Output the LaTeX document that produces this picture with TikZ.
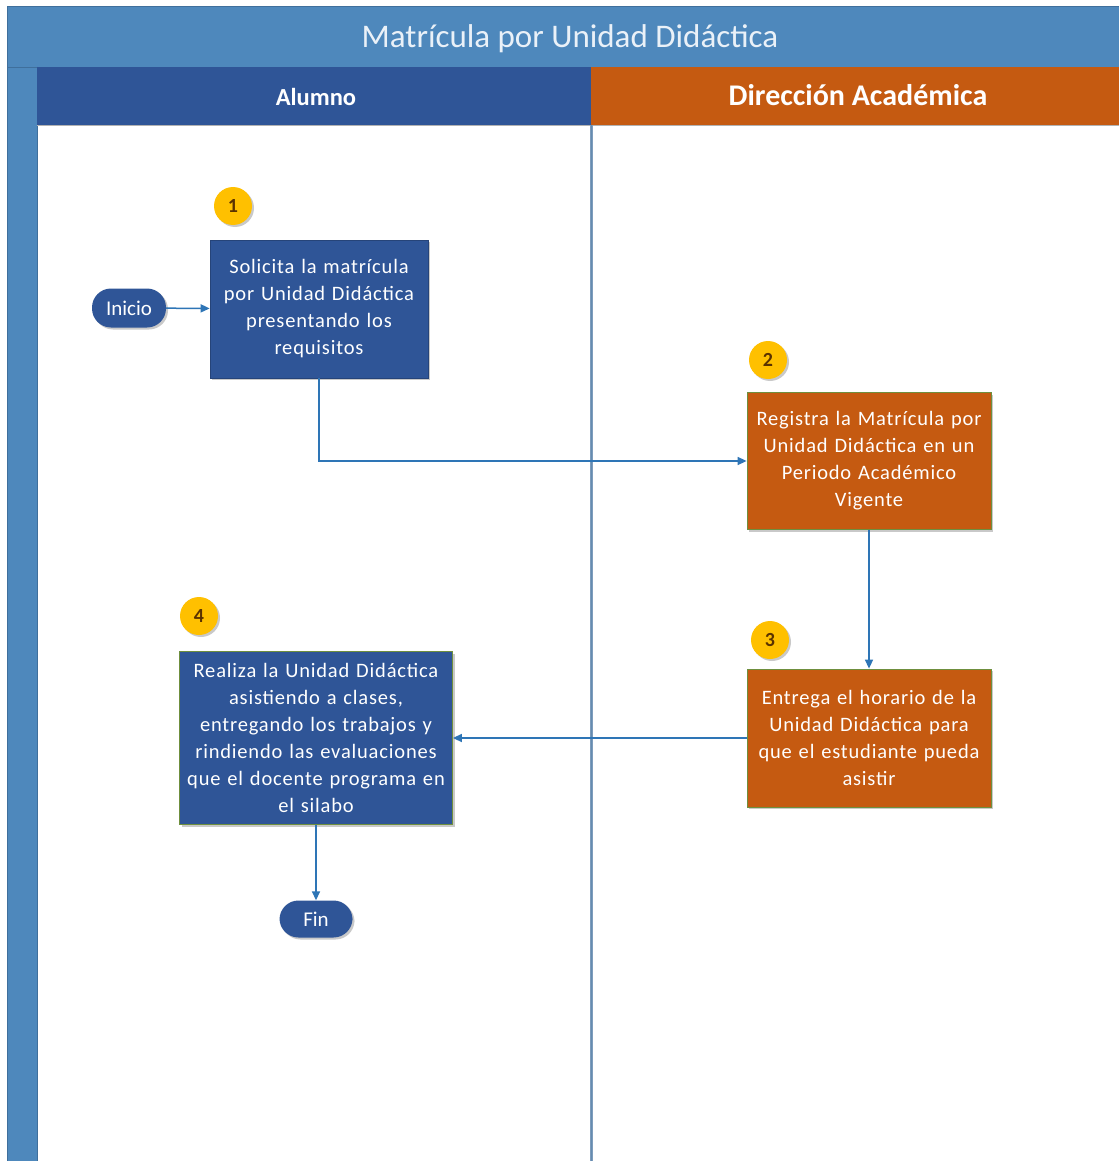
\documentclass[tikz,border=0pt]{standalone}
\usepackage{fontspec}
\setmainfont{Carlito}
\newfontfamily\boxfont[LetterSpace=4]{Carlito}
\usetikzlibrary{shadows,arrows.meta}
\definecolor{frameblue}{HTML}{4E88BC}
\definecolor{frameedge}{HTML}{3F6F9C}
\definecolor{lanedark}{HTML}{2F5597}
\definecolor{laneorange}{HTML}{C55A11}
\definecolor{badgefill}{HTML}{FFC000}
\definecolor{badgetext}{HTML}{5A3200}
\definecolor{flow}{HTML}{2E75B6}
\definecolor{edgegreen}{HTML}{6F8F3E}
\definecolor{divider}{HTML}{7E9CBC}
\definecolor{titletext}{HTML}{EAF1F8}

\begin{document}
\begin{tikzpicture}[x=1pt,y=-1pt,
  shade/.style={drop shadow={shadow xshift=2pt,shadow yshift=-2pt,opacity=0.35,fill=black!60}},
  procblue/.style={rectangle,fill=lanedark,draw=lanedark!80!black,line width=0.6pt,shade,
    text=white,align=center,inner sep=0pt,font=\boxfont\fontsize{20.5}{27}\selectfont},
  procorange/.style={rectangle,fill=laneorange,draw=edgegreen,line width=0.8pt,shade,
    text=white,align=center,inner sep=0pt,font=\boxfont\fontsize{20.5}{27}\selectfont},
  terminal/.style={rectangle,rounded corners=19pt,fill=lanedark,shade,text=white,
    inner sep=0pt,font=\fontsize{21}{24}\selectfont},
  badge/.style={circle,fill=badgefill,minimum size=38pt,inner sep=0pt,shade,
    text=badgetext,font=\fontsize{20}{24}\selectfont\bfseries},
  flowline/.style={draw=flow,line width=1.5pt,-{Triangle[length=9pt,width=8pt]}}]

\useasboundingbox (0,0) rectangle (1119,1161);
\fill[white] (0,0) rectangle (1119,1161);

% pool frame: title band and left bar
\fill[frameblue] (7,7) rectangle (1119,67);
\fill[frameblue] (7,67) rectangle (37,1161);
\draw[frameedge,line width=1pt] (7,1161) -- (7,7) -- (1119,7);
\draw[frameedge,line width=0.8pt] (7,67) -- (1119,67);
\draw[frameedge,line width=0.8pt] (37,67) -- (37,1161);
\node[text=titletext,font=\fontsize{33}{38}\selectfont] (title) at (570,39) {Matrícula por Unidad Didáctica};

% lane headers
\fill[lanedark] (37,67) rectangle (591,125);
\fill[laneorange] (591,67) rectangle (1119,125);
\draw[black!30,line width=0.8pt] (37,125) -- (1119,125);
\node[text=white,font=\fontsize{24.5}{28}\selectfont\bfseries] (lane1) at (316,97) {Alumno};
\node[text=white,font=\fontsize{30}{34}\selectfont\bfseries] (lane2) at (858,95) {Dirección Académica};

% lane divider
\draw[divider,line width=3pt] (591,125) -- (591,1161);
\draw[frameedge!80,line width=0.8pt] (591,125) -- (591,1161);

% steps
\node[terminal,minimum width=74pt,minimum height=39pt] (inicio) at (129,308) {Inicio};
\node[procblue,minimum width=218pt,minimum height=138pt,text width=214pt] (s1) at (319,309)
  {Solicita la matrícula\\por Unidad Didáctica\\presentando los\\requisitos};
\node[badge] (b1) at (233,206) {1};

\node[procorange,minimum width=244pt,minimum height=137pt,text width=240pt] (s2) at (869,461)
  {Registra la Matrícula por\\Unidad Didáctica en un\\Periodo Académico\\Vigente};
\node[badge] (b2) at (768,360) {2};

\node[procorange,minimum width=244pt,minimum height=138pt,text width=240pt] (s3) at (869,738)
  {Entrega el horario de la\\Unidad Didáctica para\\que el estudiante pueda\\asistir};
\node[badge] (b3) at (770,640) {3};

\node[procblue,draw=edgegreen,line width=0.8pt,minimum width=273pt,minimum height=173pt,text width=270pt] (s4) at (316,738)
  {Realiza la Unidad Didáctica\\asistiendo a clases,\\entregando los trabajos y\\rindiendo las evaluaciones\\que el docente programa en\\el silabo};
\node[badge] (b4) at (199,616) {4};

\node[terminal,minimum width=73pt,minimum height=37pt] (fin) at (316,919) {Fin};

% connectors
\draw[flowline] (inicio) -- (s1);
\draw[flowline] (s1.south) |- (s2.west);
\draw[flowline] (s2) -- (s3);
\draw[flowline] (s3) -- (s4);
\draw[flowline] (s4) -- (fin);
\end{tikzpicture}
\end{document}
